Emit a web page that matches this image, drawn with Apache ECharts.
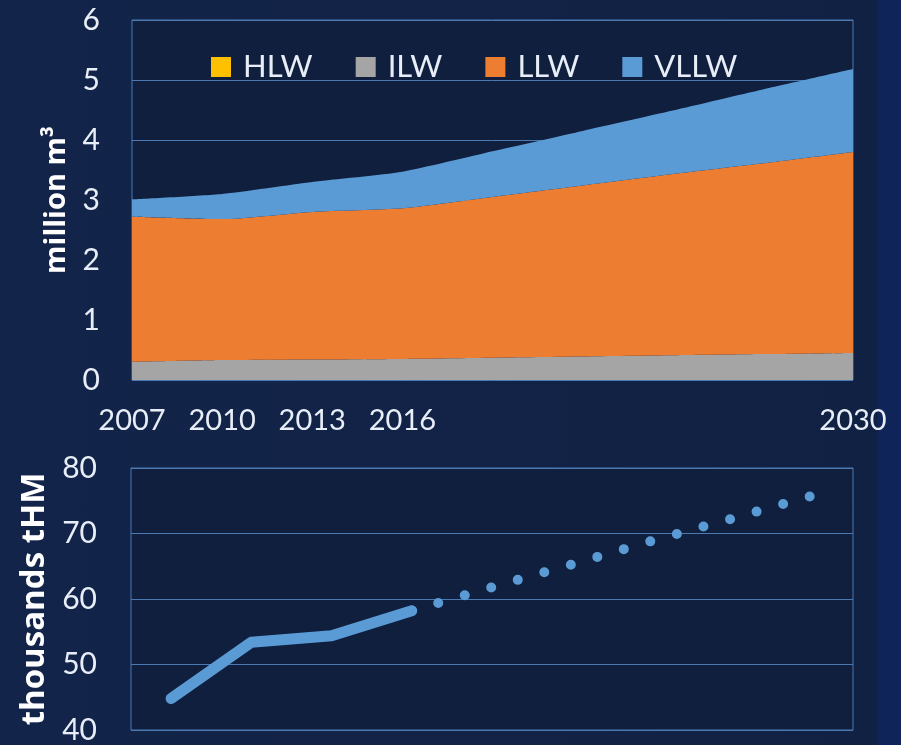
<!DOCTYPE html>
<html>
<head>
<meta charset="utf-8">
<script src="https://cdn.jsdelivr.net/npm/echarts@6/dist/echarts.min.js"></script>
<style>
  html, body {
    margin: 0;
    padding: 0;
    width: 901px;
    height: 745px;
    overflow: hidden;
    background: linear-gradient(to right, #13244a 0, #112143 877px, #0f2558 878px, #10245a 901px);
  }
  #chart { width: 901px; height: 745px; }
</style>
</head>
<body>
<div id="chart"></div>
<script>
// categories (9 equally spaced steps, only some labelled)
var years = ['2007', '2010', '2013', '2016', '2019', '2022', '2025', '2028', '2030'];
var shownYears = ['2007', '2010', '2013', '2016', '2030'];

// waste volumes, million m3
var hlw  = [0.002, 0.002, 0.002, 0.002, 0.002, 0.002, 0.002, 0.002, 0.002];
var ilw  = [0.30, 0.33, 0.34, 0.35, 0.37, 0.39, 0.41, 0.43, 0.45];
var llw  = [2.42, 2.35, 2.46, 2.51, 2.68, 2.85, 3.02, 3.18, 3.35];
var vllw = [0.29, 0.42, 0.50, 0.61, 0.76, 0.91, 1.06, 1.23, 1.38];

// spent fuel, thousands tHM
var fuelActual   = [44.8, 53.4, 54.4, 58.2, '-', '-', '-', '-', '-'];
var fuelForecast = ['-', '-', '-', 58.2, 61.8, 65.3, 68.9, 72.3, 75.8];

var font = 'Lato';
var txt = '#e8eef7';
var gridLine = '#4b79b3';

var chart = echarts.init(document.getElementById('chart'));

function area(name, data, color) {
  return {
    name: name,
    type: 'line',
    stack: 'waste',
    xAxisIndex: 0,
    yAxisIndex: 0,
    data: data,
    smooth: 0.2,
    showSymbol: false,
    lineStyle: { width: 0 },
    itemStyle: { color: color },
    areaStyle: { color: color, opacity: 1 }
  };
}

var option = {
  animation: false,
  backgroundColor: 'transparent',
  textStyle: { fontFamily: font },
  legend: {
    left: 211,
    top: 50,
    padding: 0,
    icon: 'rect',
    itemWidth: 20,
    itemHeight: 20,
    itemGap: 43,
    data: ['HLW', 'ILW', 'LLW', 'VLLW'],
    textStyle: { color: txt, fontSize: 31, fontFamily: font, lineHeight: 34, padding: [0, 0, 0, 7] }
  },
  grid: [
    { left: 132, right: 48, top: 20, height: 360, show: true,
      backgroundColor: '#0f1f3d', borderColor: gridLine, borderWidth: 1 },
    { left: 131, right: 48, top: 468, height: 266, show: true,
      backgroundColor: '#0f1f3d', borderColor: gridLine, borderWidth: 1 }
  ],
  xAxis: [
    { type: 'category', gridIndex: 0, data: years, boundaryGap: false,
      axisLine: { show: false }, axisTick: { show: false },
      axisLabel: { color: txt, fontSize: 29, margin: 26, interval: 0,
        formatter: function (v) { return shownYears.indexOf(v) >= 0 ? v : ''; } } },
    { type: 'category', gridIndex: 1, data: years, boundaryGap: true,
      axisLine: { show: false }, axisTick: { show: false },
      axisLabel: { show: false } }
  ],
  yAxis: [
    { type: 'value', gridIndex: 0, min: 0, max: 6, interval: 1,
      name: 'million m³', nameLocation: 'middle', nameGap: 58,
      nameTextStyle: { color: '#ffffff', fontSize: 29, fontWeight: 'bold', fontFamily: 'Open Sans' },
      axisLine: { show: false }, axisTick: { show: false },
      axisLabel: { color: txt, fontSize: 30, margin: 32 },
      splitLine: { lineStyle: { color: gridLine, width: 1 } } },
    { type: 'value', gridIndex: 1, min: 40, max: 80, interval: 10,
      name: 'thousands tHM', nameLocation: 'middle', nameGap: 80,
      nameTextStyle: { color: '#ffffff', fontSize: 33, fontWeight: 'bold', fontFamily: 'Open Sans' },
      axisLine: { show: false }, axisTick: { show: false },
      axisLabel: { color: txt, fontSize: 30, margin: 34 },
      splitLine: { lineStyle: { color: gridLine, width: 1 } } }
  ],
  series: [
    area('HLW', hlw, '#ffc000'),
    area('ILW', ilw, '#a5a5a5'),
    area('LLW', llw, '#ed7d31'),
    area('VLLW', vllw, '#5b9bd5'),
    { name: 'fuel', type: 'line', xAxisIndex: 1, yAxisIndex: 1,
      data: fuelActual, showSymbol: false,
      itemStyle: { color: '#5b9bd5' },
      lineStyle: { color: '#5b9bd5', width: 11, cap: 'round', join: 'round' } },
    { name: 'fuel forecast', type: 'line', xAxisIndex: 1, yAxisIndex: 1,
      data: fuelForecast, showSymbol: false,
      itemStyle: { color: '#5b9bd5' },
      lineStyle: { color: '#5b9bd5', width: 10, type: [0, 27.6], cap: 'round' } }
  ]
};

chart.setOption(option);
</script>
</body>
</html>
